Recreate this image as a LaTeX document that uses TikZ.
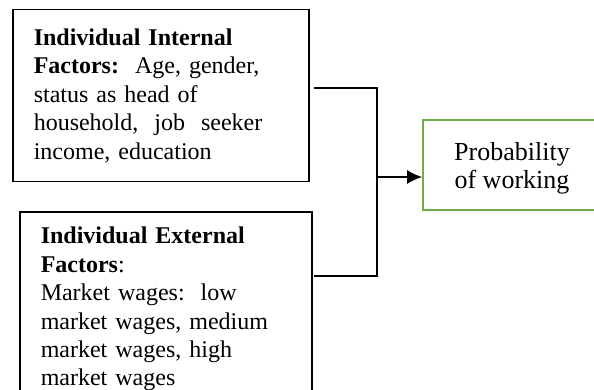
\documentclass[tikz,border=0pt]{standalone}
\usepackage{fontspec}
\setmainfont{Liberation Serif}
\usetikzlibrary{arrows.meta}
\definecolor{outgreen}{RGB}{112,173,71}
\begin{document}
\begin{tikzpicture}[x=1pt, y=-1pt,
  factor/.style={draw, line width=1.5pt, anchor=north west, align=left, inner xsep=21pt, font=\fontsize{24}{28.4}\selectfont},
  outcome/.style={draw=outgreen, line width=1.6pt, align=center, minimum width=178pt, minimum height=90pt, font=\fontsize{26}{28}\selectfont},
  link/.style={line width=1.5pt}]
\clip (0,0) rectangle (594,390);

\node[factor, text width=254pt, minimum height=172pt] at (12,9) (internal) {\textbf{Individual Internal}\\
  \textbf{Factors:}\ \ Age, gender,\\ status as head of\\ household,\ \ job\ \ seeker\\ income, education};
\node[factor, text width=250pt, inner ysep=15.5pt] at (19,211) (external) {\textbf{Individual External}\\
  \textbf{Factors}:\\ Market wages:\ \ low\\ market wages, medium\\ market wages, high\\ market wages};

\node[outcome] at (512,165) (prob) {\rule{0pt}{24pt}Probability\\ of working};

\coordinate (in1) at (314,88);
\coordinate (in2) at (314,276);
\coordinate (join) at (377,177);

\draw[link] (in1) -| (join);
\draw[link] (in2) -| (join);
\draw[line width=2pt, -{Latex[length=15pt,width=14pt]}] (join) -- (join -| prob.west);
\end{tikzpicture}
\end{document}
